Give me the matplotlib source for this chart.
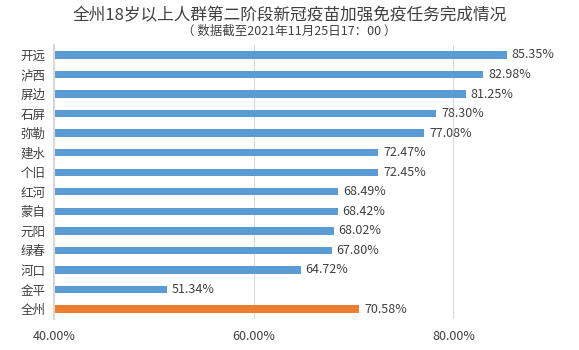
import matplotlib.pyplot as plt

plt.rcParams['font.family'] = ['Noto Sans CJK SC', 'DejaVu Sans']

regions = ["开远", "泸西", "屏边", "石屏", "弥勒", "建水", "个旧", "红河",
           "蒙自", "元阳", "绿春", "河口", "金平", "全州"]
rates = [85.35, 82.98, 81.25, 78.30, 77.08, 72.47, 72.45, 68.49,
         68.42, 68.02, 67.80, 64.72, 51.34, 70.58]
xticks = [40, 60, 80]

blue = "#5B9BD5"
orange = "#ED7D31"
txt = "#404040"

fig = plt.figure(figsize=(5.79, 3.5), dpi=100)
ax = fig.add_axes([0.093, 0.089, 0.897, 0.782])

pos = list(range(len(regions)))
lefts = [40] * len(rates)
colors = [orange if r == "全州" else blue for r in regions]
widths = [v - 40 for v in rates]
ax.barh(pos, widths, left=lefts, height=0.38, color=colors, zorder=2)

for p, v in zip(pos, rates):
    ax.text(v + 0.5, p, f"{v:.2f}%", va="center", ha="left", fontsize=9, color=txt)

ax.set_xlim(40, 92)
ax.set_ylim(len(regions) - 0.5, -0.5)
ax.set_yticks(pos)
ax.set_yticklabels(regions, fontsize=9, color=txt)
ax.set_xticks(xticks)
ax.set_xticklabels([f"{t:.2f}%" for t in xticks], fontsize=9, color=txt)
ax.tick_params(length=0, pad=8)
ax.tick_params(axis='y', pad=6)
ax.grid(axis='x', color="#d9d9d9", linewidth=0.8, zorder=0)
for s in ["top", "right", "bottom"]:
    ax.spines[s].set_visible(False)
ax.spines["left"].set_color("#d9d9d9")
ax.spines["left"].set_linewidth(1.5)

fig.text(0.5, 0.955, "全州18岁以上人群第二阶段新冠疫苗加强免疫任务完成情况",
         ha="center", va="center", fontsize=12, color=txt)
fig.text(0.5, 0.91, "（ 数据截至2021年11月25日17：00 ）",
         ha="center", va="center", fontsize=9, color=txt)

fig.savefig("out.png", dpi=100)
